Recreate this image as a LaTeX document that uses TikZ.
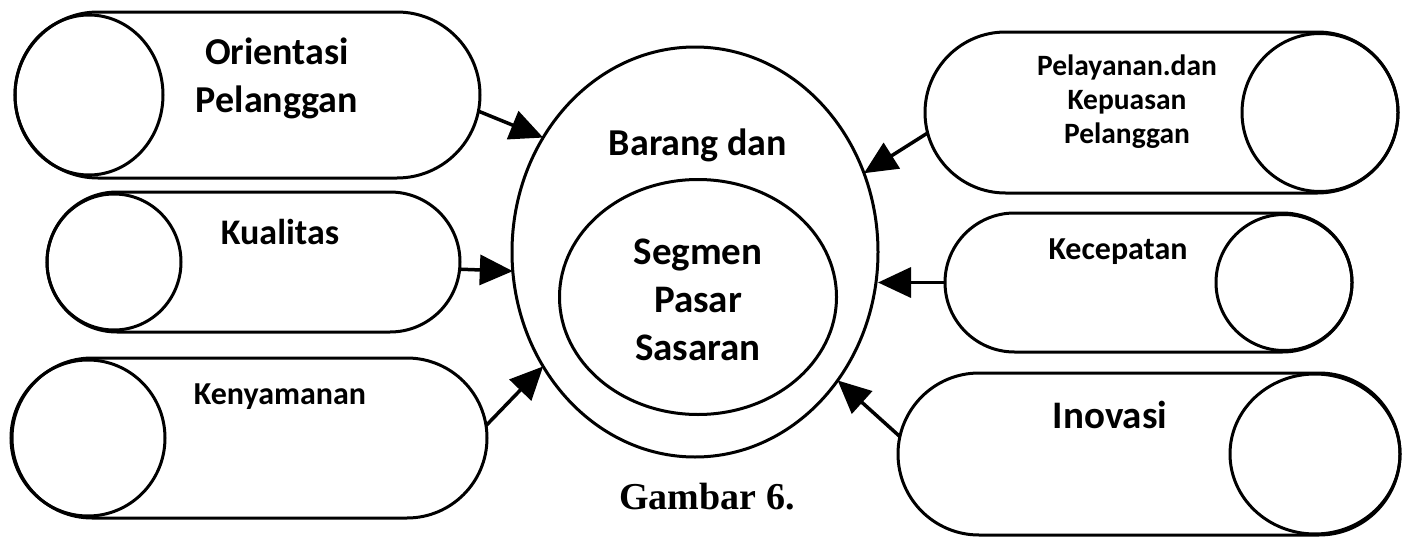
\documentclass[tikz,border=0pt]{standalone}
\usepackage{fontspec}
\setmainfont{Carlito}
\newfontfamily\capfont{Liberation Serif}
\usetikzlibrary{shapes.misc,shapes.geometric,arrows.meta}
\begin{document}
\begin{tikzpicture}[x=1pt,y=-1pt,
  line width=3pt,
  pill/.style={draw,rounded rectangle,inner sep=0pt,outer sep=0pt},
  disc/.style={draw,ellipse,inner sep=0pt,outer sep=0pt},
  lbl/.style={align=center,inner sep=0pt,font=\bfseries},
  arr/.style={-{Triangle[length=33pt,width=30pt]},line width=3.5pt}]
\useasboundingbox (0,0) rectangle (1409,538);
\fill[white] (0,0) rectangle (1409,538);
% left pills
\node[pill,minimum width=465pt,minimum height=166pt] (L1) at (247.5,95) {};
\node[disc,minimum width=148pt,minimum height=160pt] (L1c) at (89,95) {};
\node[pill,minimum width=413pt,minimum height=140pt] (L2) at (253.5,262) {};
\node[disc,minimum width=134pt,minimum height=136pt] (L2c) at (114,262) {};
\node[pill,minimum width=475pt,minimum height=160pt] (L3) at (249.5,438) {};
\node[disc,minimum width=154pt,minimum height=156pt] (L3c) at (88,438) {};
% right pills
\node[pill,minimum width=473pt,minimum height=161pt] (R1) at (1161.5,112.5) {};
\node[disc,minimum width=156pt,minimum height=158pt] (R1c) at (1320,112.5) {};
\node[pill,minimum width=407pt,minimum height=139pt] (R2) at (1148.5,282.5) {};
\node[disc,minimum width=136pt,minimum height=136pt] (R2c) at (1284,282.5) {};
\node[pill,minimum width=502pt,minimum height=162pt] (R3) at (1149,454) {};
\node[disc,minimum width=170pt,minimum height=160pt] (R3c) at (1315,454) {};
% centre ellipses
\node[disc,minimum width=366pt,minimum height=410pt] (O) at (695,252) {};
\node[disc,minimum width=277pt,minimum height=235pt] (I) at (698,297) {};
% labels
\node[lbl,font=\bfseries\fontsize{38}{48}\selectfont] (t1) at (277,78) {Orientasi\\Pelanggan};
\node[lbl,font=\bfseries\fontsize{36}{44}\selectfont] (t2) at (280,232) {Kualitas};
\node[lbl,font=\bfseries\fontsize{32}{40}\selectfont] (t3) at (280,397) {Kenyamanan};
\node[lbl,font=\bfseries\fontsize{29.5}{34}\selectfont] (t4) at (1127,102) {Pelayanan.dan\\Kepuasan\\Pelanggan};
\node[lbl,font=\bfseries\fontsize{32}{40}\selectfont] (t5) at (1118,252) {Kecepatan};
\node[lbl,font=\bfseries\fontsize{39}{46}\selectfont] (t6) at (1110,415) {Inovasi};
\node[lbl,font=\bfseries\fontsize{38}{46}\selectfont] (t7) at (698,145) {Barang dan};
\node[lbl,font=\bfseries\fontsize{39}{48}\selectfont] (t8) at (698,300) {Segmen\\Pasar\\Sasaran};
\node[lbl,font=\capfont\bfseries\fontsize{38}{44}\selectfont] (cap) at (707,497) {Gambar 6.};
% arrows
\draw[arr] (L1.-4) -- (O.143);
\draw[arr] (L2.-2) -- (O.186);
\draw[arr] (L3.3) -- (O.217);
\draw[arr] (R1.185) -- (O.25);
\draw[arr] (R2.west) -- (O.east |- R2.west);
\draw[arr] (R3.176) -- (O.-42.5);
\end{tikzpicture}
\end{document}
